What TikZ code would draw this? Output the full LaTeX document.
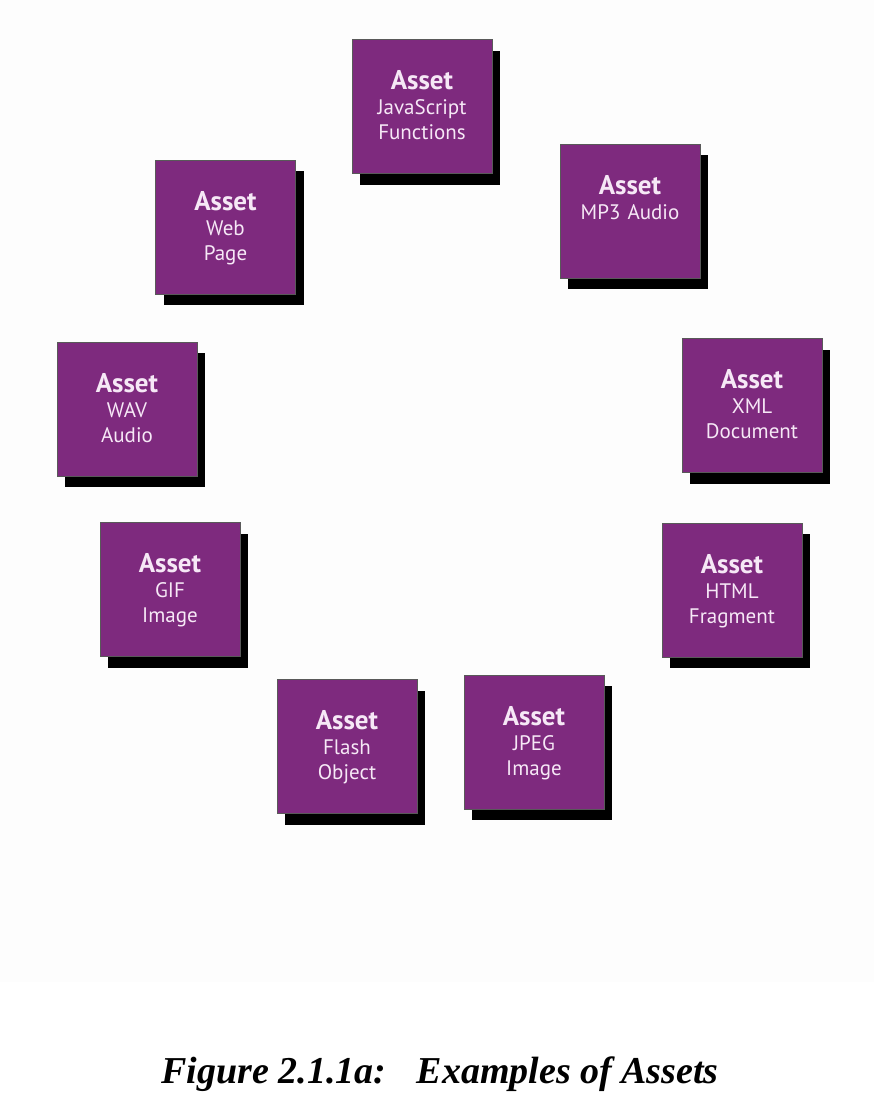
\documentclass[tikz,border=0pt]{standalone}
\usepackage{fontspec}
\setmainfont{Liberation Serif}
\setsansfont{PT Sans}
\usepackage{xcolor}
\usepackage{tikz}
\usetikzlibrary{shadows}

\definecolor{assetpurple}{RGB}{126,42,126}
\definecolor{assettext}{RGB}{246,232,246}
\definecolor{paper}{RGB}{253,253,253}
\newcommand{\assethead}{{\bfseries\fontsize{27}{25}\selectfont Asset}}

\begin{document}
\begin{tikzpicture}[x=1pt, y=-1pt,
assetbox/.style={draw=black!65, line width=1pt, fill=assetpurple, text=assettext, inner sep=0pt,
  text width=140pt, align=center, text height=50pt, text depth=84pt,
  font=\sffamily\fontsize{21}{25}\selectfont,
  drop shadow={shadow xshift=8pt, shadow yshift=-11pt, fill=black, opacity=1}}
]
% page and background
\useasboundingbox (0,0) rectangle (874,1106);
\fill[white] (0,0) rectangle (874,1106);
\fill[paper] (0,0) rectangle (874,982);
% the assets
\node[assetbox] (js) at (422,106.5) {\assethead\\JavaScript\\Functions};
\node[assetbox] (mp3) at (630,211) {\assethead\\MP3 Audio};
\node[assetbox] (web) at (225.5,227) {\assethead\\Web\\Page};
\node[assetbox] (wav) at (127,409) {\assethead\\WAV\\Audio};
\node[assetbox] (xml) at (752,405.5) {\assethead\\XML\\Document};
\node[assetbox] (gif) at (170,589.5) {\assethead\\GIF\\Image};
\node[assetbox] (html) at (732,590) {\assethead\\HTML\\Fragment};
\node[assetbox] (flash) at (347,746.5) {\assethead\\Flash\\Object};
\node[assetbox] (jpeg) at (534,742) {\assethead\\JPEG\\Image};
% caption
\node[font=\fontsize{38}{40}\selectfont\bfseries\itshape, anchor=base] (caption) at (440,1083)
  {Figure 2.1.1a:\hspace{0.8em}Examples of Assets};
\end{tikzpicture}
\end{document}
